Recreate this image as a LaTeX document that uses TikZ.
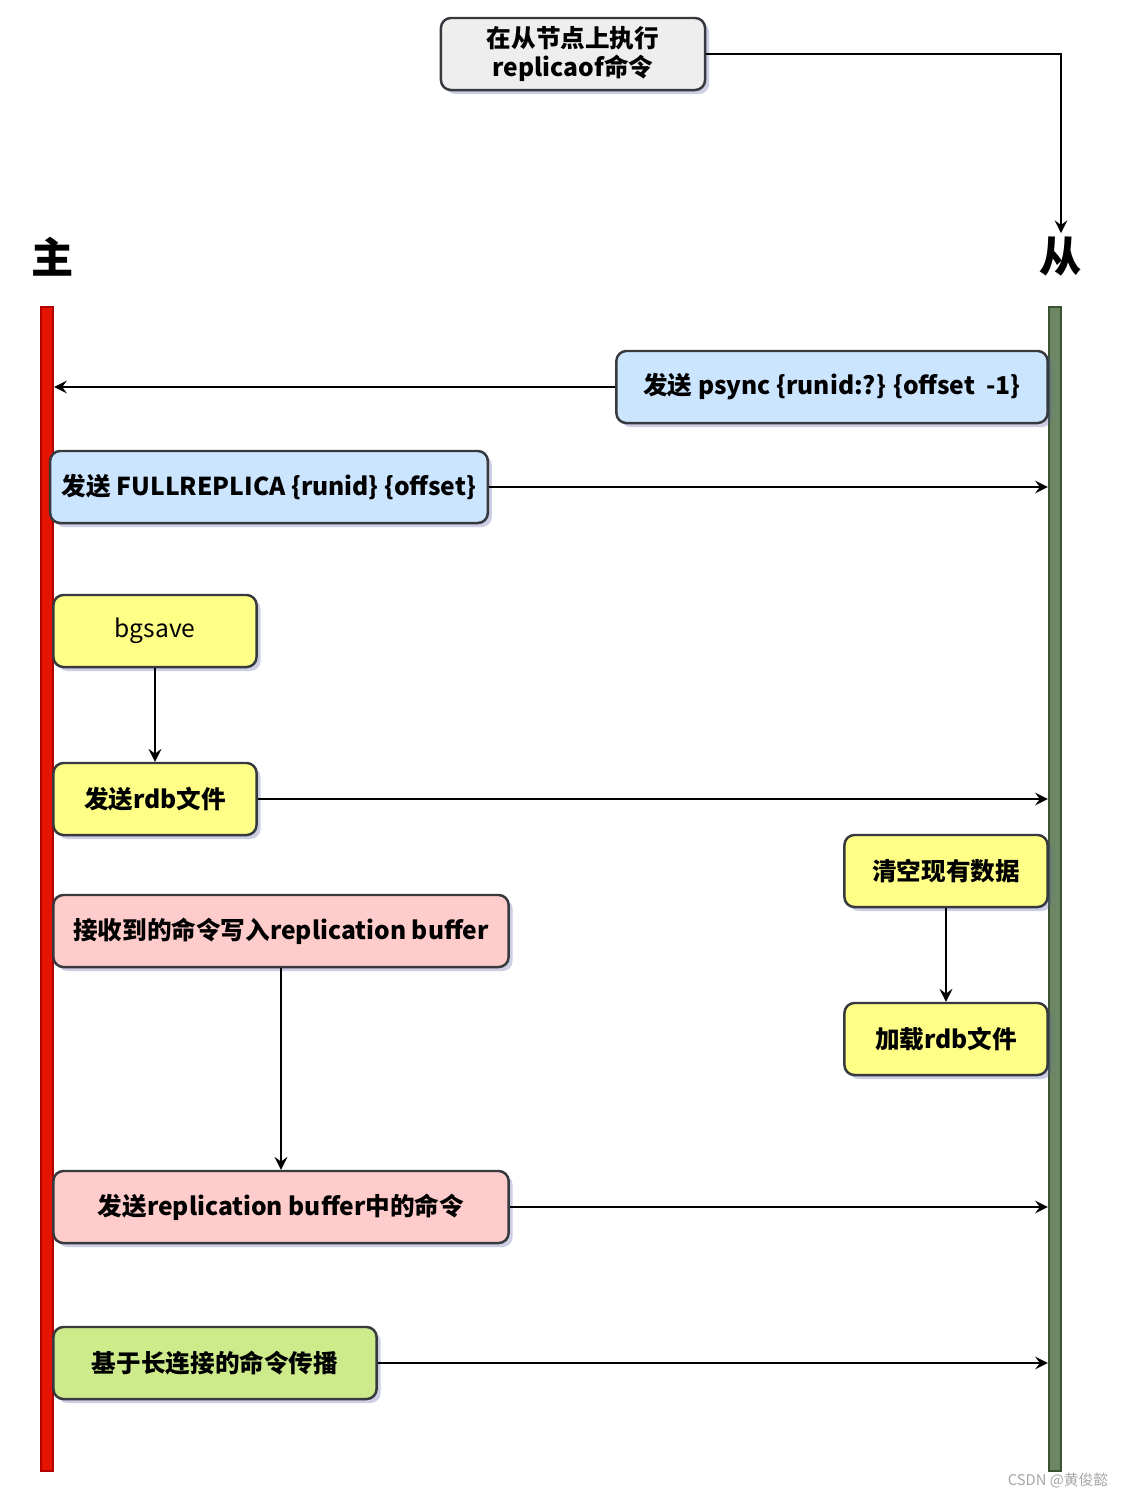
\documentclass[tikz,border=0pt]{standalone}
\usepackage{fontspec}
\setmainfont{Noto Sans CJK SC}
\usepackage{xcolor}
\usepackage{tikz}
\usetikzlibrary{shapes,arrows,positioning,fit,calc,shadows}

\definecolor{boxline}{HTML}{36393D}
\definecolor{graybox}{HTML}{EEEEEE}
\definecolor{bluebox}{HTML}{CCE5FF}
\definecolor{yellowbox}{HTML}{FFFF88}
\definecolor{pinkbox}{HTML}{FFCCCC}
\definecolor{greenbox}{HTML}{CDEB8B}
\definecolor{masterred}{HTML}{E51400}
\definecolor{masterline}{HTML}{B20000}
\definecolor{slavegreen}{HTML}{6D8764}
\definecolor{slaveline}{HTML}{3A5431}

\begin{document}
\begin{tikzpicture}[
        x=0.01cm, y=-0.01cm,
        stepbox/.style={rectangle, rounded corners=0.1cm, draw=boxline, line width=0.7pt,
            minimum height=0.72cm, align=center, font=\fontsize{7}{8.5}\selectfont,
            drop shadow={shadow xshift=0.04cm, shadow yshift=-0.04cm, opacity=0.3, fill=blue!30!gray}},
        bar/.style={rectangle, line width=0.6pt, minimum width=0.12cm, minimum height=11.64cm, inner sep=0pt},
        side/.style={font=\fontsize{12}{14}\selectfont\bfseries},
        msg/.style={draw, line width=0.6pt, -stealth}
    ]
    \useasboundingbox (0,0) rectangle (1124,1499);

    % lifelines
    \node[bar, fill=masterred, draw=masterline] (master) at (47,889) {};
    \node[bar, fill=slavegreen, draw=slaveline] (slave) at (1055,889) {};
    \node[side] (mlabel) at (53,257) {主};
    \node[side, inner sep=1pt] (slabel) at (1061,257) {从};

    % start
    \node[stepbox, fill=graybox, minimum width=2.64cm, inner ysep=0.5pt,
        font=\fontsize{7}{8}\selectfont\bfseries] (start) at (573,54) {在从节点上执行\\replicaof命令};
    \draw[msg] (start.east) -| (slabel.north);

    % handshake
    \node[stepbox, fill=bluebox, minimum width=4.31cm] (psync) at (832,387) {\bfseries 发送 psync \{runid:?\} \{offset~ -1\}};
    \draw[msg] (psync.west) -- (master.east |- psync.west);
    \node[stepbox, fill=bluebox, minimum width=4.31cm] (fullrep) at (269,487) {\bfseries 发送 FULLREPLICA \{runid\} \{offset\}};
    \draw[msg] (fullrep.east) -- (slave.west |- fullrep.east);

    % rdb
    \node[stepbox, fill=yellowbox, minimum width=2.03cm] (bgsave) at (155,631) {bgsave};
    \node[stepbox, fill=yellowbox, minimum width=2.03cm] (sendrdb) at (155,799) {\bfseries 发送rdb文件};
    \draw[msg] (bgsave) -- (sendrdb);
    \draw[msg] (sendrdb.east) -- (slave.west |- sendrdb.east);
    \node[stepbox, fill=yellowbox, minimum width=2.03cm] (flush) at (946,871) {\bfseries 清空现有数据};
    \node[stepbox, fill=yellowbox, minimum width=2.03cm] (loadrdb) at (946,1039) {\bfseries 加载rdb文件};
    \draw[msg] (flush) -- (loadrdb);

    % buffer
    \node[stepbox, fill=pinkbox, minimum width=4.55cm] (writebuf) at (281,931) {\bfseries 接收到的命令写入replication buffer};
    \node[stepbox, fill=pinkbox, minimum width=4.55cm] (sendbuf) at (281,1207) {\bfseries 发送replication buffer中的命令};
    \draw[msg] (writebuf) -- (sendbuf);
    \draw[msg] (sendbuf.east) -- (slave.west |- sendbuf.east);

    % propagate
    \node[stepbox, fill=greenbox, minimum width=3.23cm] (propagate) at (215,1363) {\bfseries 基于长连接的命令传播};
    \draw[msg] (propagate.east) -- (slave.west |- propagate.east);

    \node[text=gray!70, font=\fontsize{4.2}{5}\selectfont] (mark) at (1058,1481) {CSDN @黄俊懿};
\end{tikzpicture}
\end{document}
